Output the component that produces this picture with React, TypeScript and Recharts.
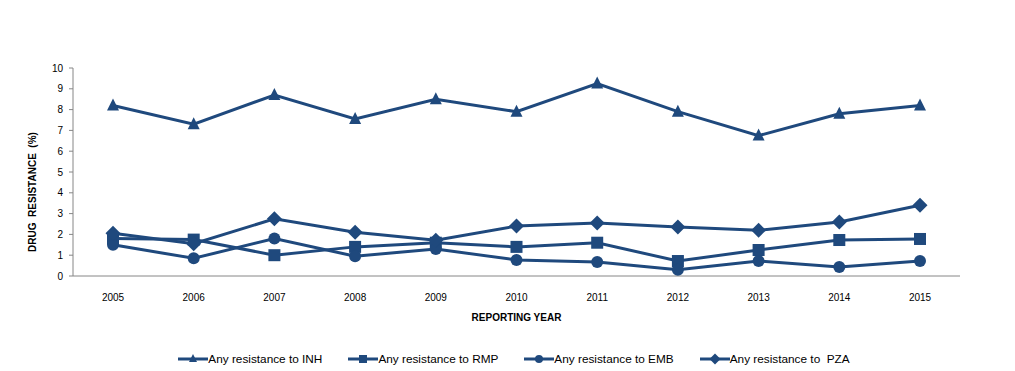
import React from "react";
import { LineChart, Line, XAxis, YAxis, Legend } from "recharts";

const years = ["2005", "2006", "2007", "2008", "2009", "2010", "2011", "2012", "2013", "2014", "2015"];
const inh = [8.2, 7.3, 8.7, 7.55, 8.5, 7.9, 9.25, 7.9, 6.75, 7.8, 8.2];
const rmp = [1.8, 1.75, 1.0, 1.4, 1.6, 1.4, 1.6, 0.72, 1.25, 1.73, 1.78];
const emb = [1.5, 0.85, 1.8, 0.95, 1.3, 0.77, 0.67, 0.3, 0.72, 0.43, 0.72];
const pza = [2.05, 1.55, 2.75, 2.1, 1.72, 2.4, 2.55, 2.35, 2.2, 2.6, 3.4];
const yTicks = [0, 1, 2, 3, 4, 5, 6, 7, 8, 9, 10];

const seriesNames = ["Any resistance to INH", "Any resistance to RMP", "Any resistance to EMB", "Any resistance to  PZA"];
const seriesKeys = ["inh", "rmp", "emb", "pza"];
const markers = ["triangle", "square", "circle", "diamond"];

const data = years.map((year, i) => ({ year, inh: inh[i], rmp: rmp[i], emb: emb[i], pza: pza[i] }));

const NAVY = "#1F497D";
const AXIS = "#868686";
const FONT = "'Liberation Sans', Arial, sans-serif";

function Marker({ kind, cx, cy, s }: { kind: string; cx: number; cy: number; s: number }) {
  const h = s / 2;
  if (kind === "triangle") {
    return <polygon points={`${cx},${cy - h - 1} ${cx + h},${cy + h - 1} ${cx - h},${cy + h - 1}`} fill={NAVY} />;
  }
  if (kind === "square") {
    return <rect x={cx - h} y={cy - h} width={s} height={s} fill={NAVY} />;
  }
  if (kind === "circle") {
    return <circle cx={cx} cy={cy} r={h} fill={NAVY} />;
  }
  const d = h + 1.5;
  return <polygon points={`${cx},${cy - d} ${cx + d},${cy} ${cx},${cy + d} ${cx - d},${cy}`} fill={NAVY} />;
}

const LegendContent = () => (
  <div style={{ display: "flex", justifyContent: "center", gap: 26, fontFamily: FONT, fontSize: 11.8, color: "#000", paddingLeft: 68, paddingTop: 5 }}>
    {seriesNames.map((name, i) => (
      <div key={name} style={{ display: "flex", alignItems: "center" }}>
        <svg width={30} height={12}>
          <line x1={0} y1={6} x2={30} y2={6} stroke={NAVY} strokeWidth={3} />
          <Marker kind={markers[i]} cx={15} cy={6} s={8} />
        </svg>
        <span style={{ whiteSpace: "pre" }}>{name}</span>
      </div>
    ))}
  </div>
);

const YLabel = ({ viewBox }: any) => {
  const x = viewBox.x + 32;
  const y = viewBox.y + viewBox.height / 2 + 20;
  return (
    <text x={x} y={y} transform={`rotate(-90, ${x}, ${y})`} textAnchor="middle" dominantBaseline="central"
      fontFamily={FONT} fontSize={10} fontWeight="bold" fill="#000" style={{ whiteSpace: "pre" }}>
      DRUG  RESISTANCE  (%)
    </text>
  );
};

export default function App() {
  return (
    <div style={{ position: "absolute", left: 0, top: 0, width: 1015, height: 371, background: "#fff" }}>
      <LineChart width={1015} height={371} data={data} margin={{ top: 68, right: 55, bottom: 0, left: 0 }}>
        <XAxis
          dataKey="year"
          stroke={AXIS}
          tickLine={false}
          tickMargin={12}
          height={71}
          padding={{ left: 40, right: 40 }}
          tick={{ fill: "#000", fontSize: 10, fontFamily: FONT }}
          label={{ value: "REPORTING  YEAR", position: "insideTop", offset: 38, fill: "#000", fontSize: 10, fontWeight: "bold", fontFamily: FONT, style: { whiteSpace: "pre" } }}
        />
        <YAxis
          width={73}
          domain={[0, 10]}
          ticks={yTicks}
          interval={0}
          stroke={AXIS}
          tickSize={4}
          tickMargin={6}
          tick={{ fill: "#000", fontSize: 10, fontFamily: FONT }}
          label={<YLabel />}
        />
        <Legend verticalAlign="bottom" wrapperStyle={{ bottom: 0, height: 24 }} content={<LegendContent />} />
        {seriesKeys.map((key, i) => (
          <Line
            key={key}
            dataKey={key}
            name={seriesNames[i]}
            stroke={NAVY}
            strokeWidth={3}
            isAnimationActive={false}
            dot={(p: any) => <Marker key={`${key}-${p.index}`} kind={markers[i]} cx={p.cx} cy={p.cy} s={12} />}
            activeDot={false}
          />
        ))}
      </LineChart>
    </div>
  );
}
